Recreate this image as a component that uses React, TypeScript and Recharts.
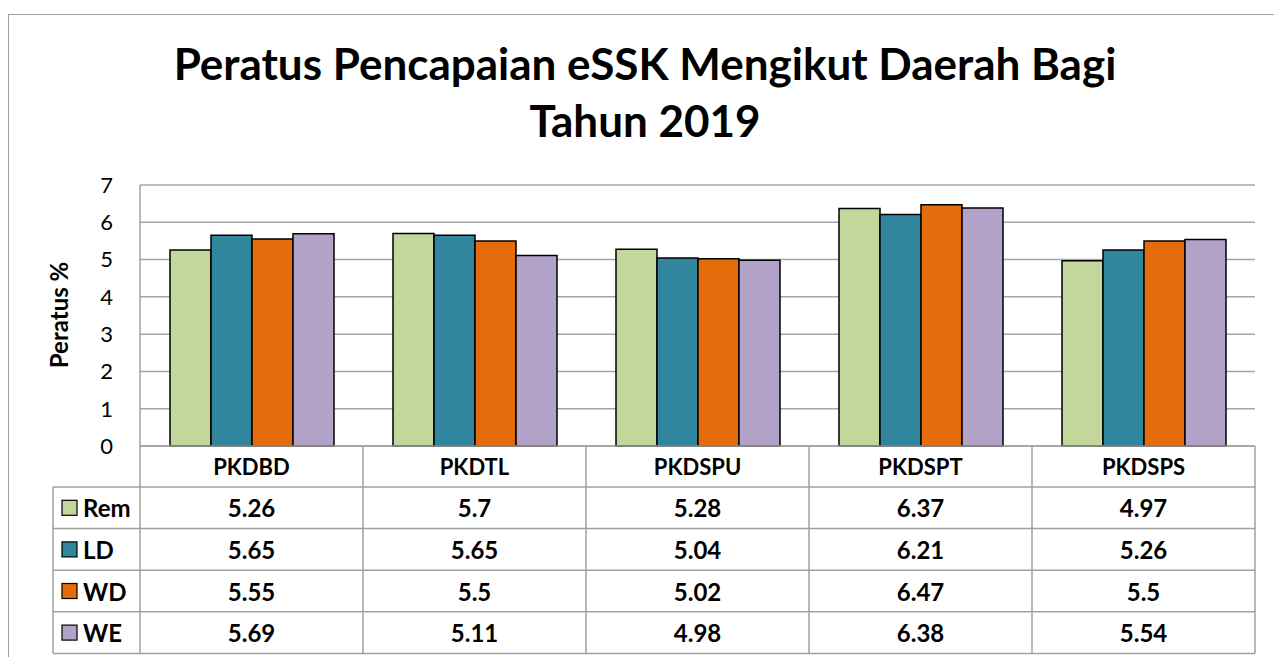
import React from 'react';
import { BarChart, Bar, XAxis, YAxis, CartesianGrid } from 'recharts';

const categories = ['PKDBD', 'PKDTL', 'PKDSPU', 'PKDSPT', 'PKDSPS'];
const remValues = [5.26, 5.7, 5.28, 6.37, 4.97];
const ldValues = [5.65, 5.65, 5.04, 6.21, 5.26];
const wdValues = [5.55, 5.5, 5.02, 6.47, 5.5];
const weValues = [5.69, 5.11, 4.98, 6.38, 5.54];
const yTicks = [0, 1, 2, 3, 4, 5, 6, 7];
const seriesNames = ['Rem', 'LD', 'WD', 'WE'];
const seriesKeys = ['rem', 'ld', 'wd', 'we'];
const seriesColors = ['#C3D69B', '#31859C', '#E46C0A', '#B3A2C7'];
const seriesValues = [remValues, ldValues, wdValues, weValues];
const titleLines = ['Peratus Pencapaian eSSK Mengikut Daerah Bagi', 'Tahun 2019'];
const yLabel = 'Peratus %';

const data = categories.map((c, i) => ({
  name: c,
  rem: remValues[i],
  ld: ldValues[i],
  wd: wdValues[i],
  we: weValues[i],
}));

const W = 1274;
const H = 657;
const PLOT_LEFT = 140;
const PLOT_RIGHT = 1255;
const PLOT_TOP = 185;
const PLOT_BOTTOM = 446;
const HEADER_BOTTOM = 487;
const ROW_H = 41.6;
const LEGEND_LEFT = 53;
const FONT = 'Lato, "Open Sans", sans-serif';
const LINE = '#a0a0a0';

const TableTick = (props: any) => {
  const { x, index, payload } = props;
  const colW = (PLOT_RIGHT - PLOT_LEFT) / categories.length;
  const left = x - colW / 2;
  const right = x + colW / 2;
  const n = seriesValues.length;
  const bottom = HEADER_BOTTOM + n * ROW_H;
  const textStyle: any = {
    fontFamily: FONT,
    fontWeight: 700,
    fontSize: 22,
    fill: '#000',
  };
  return (
    <g>
      <line x1={right} y1={PLOT_BOTTOM} x2={right} y2={bottom} stroke={LINE} strokeWidth={1.5} />
      {index === 0 && (
        <line x1={left} y1={PLOT_BOTTOM} x2={left} y2={bottom} stroke={LINE} strokeWidth={1.5} />
      )}
      {Array.from({ length: n + 1 }).map((_, r) => (
        <line
          key={'h' + r}
          x1={index === 0 ? LEGEND_LEFT : left}
          x2={right}
          y1={HEADER_BOTTOM + r * ROW_H}
          y2={HEADER_BOTTOM + r * ROW_H}
          stroke={LINE}
          strokeWidth={1.5}
        />
      ))}
      {index === 0 && (
        <line x1={LEGEND_LEFT} y1={HEADER_BOTTOM} x2={LEGEND_LEFT} y2={bottom} stroke={LINE} strokeWidth={1.5} />
      )}
      <text x={x} y={(PLOT_BOTTOM + HEADER_BOTTOM) / 2} textAnchor="middle" dominantBaseline="central" style={textStyle}>
        {payload.value}
      </text>
      {seriesValues.map((vals, r) => (
        <text
          key={'v' + r}
          x={x}
          y={HEADER_BOTTOM + r * ROW_H + ROW_H / 2}
          textAnchor="middle"
          dominantBaseline="central"
          style={{ ...textStyle, fontSize: 24 }}
        >
          {String(vals[index])}
        </text>
      ))}
      {index === 0 &&
        seriesNames.map((nm, r) => {
          const cy = HEADER_BOTTOM + r * ROW_H + ROW_H / 2;
          return (
            <g key={'l' + r}>
              <rect x={62} y={cy - 7.5} width={15} height={15} fill={seriesColors[r]} stroke="#000" strokeWidth={1.2} />
              <text x={83} y={cy} dominantBaseline="central" style={{ ...textStyle, fontSize: 24 }}>
                {nm}
              </text>
            </g>
          );
        })}
    </g>
  );
};

export default function App() {
  return (
    <div
      style={{
        position: 'fixed',
        left: 0,
        top: 0,
        width: W,
        height: H,
        overflow: 'hidden',
        background: '#fff',
      }}
    >
      <div
        style={{
          position: 'absolute',
          left: 8,
          top: 14,
          width: 1400,
          height: 800,
          border: '1.5px solid #a0a0a0',
        }}
      />
      <div style={{ position: 'absolute', left: 0, top: 0 }}>
        <BarChart
          width={W}
          height={H}
          data={data}
          margin={{ top: PLOT_TOP, right: W - PLOT_RIGHT, bottom: 0, left: 0 }}
          barCategoryGap={30}
          barGap={0}
        >
          <CartesianGrid vertical={false} stroke="#a6a6a6" strokeWidth={1.5} />
          <XAxis
            dataKey="name"
            height={H - PLOT_BOTTOM}
            interval={0}
            tickLine={false}
            axisLine={{ stroke: LINE, strokeWidth: 1.5 }}
            tick={<TableTick />}
          />
          <YAxis
            width={PLOT_LEFT}
            domain={[0, 7]}
            ticks={yTicks}
            tickLine={false}
            tickSize={6}
            tickMargin={21}
            axisLine={{ stroke: LINE, strokeWidth: 1.5 }}
            tick={{ fill: '#000', fontSize: 22, fontFamily: FONT }}
          />
          {seriesKeys.map((k, i) => (
            <Bar
              key={k}
              dataKey={k}
              name={seriesNames[i]}
              fill={seriesColors[i]}
              stroke="#000"
              strokeWidth={1.5}
              isAnimationActive={false}
            />
          ))}
        </BarChart>
      </div>
      <svg
        width={W}
        height={H}
        style={{ position: 'absolute', left: 0, top: 0, pointerEvents: 'none' }}
      >
        <text x={645} y={80} textAnchor="middle" style={{ fontFamily: FONT, fontWeight: 700, fontSize: 44, fill: '#000' }}>
          {titleLines[0]}
        </text>
        <text x={645} y={137} textAnchor="middle" style={{ fontFamily: FONT, fontWeight: 700, fontSize: 44, fill: '#000' }}>
          {titleLines[1]}
        </text>
        <text
          x={58}
          y={315}
          transform="rotate(-90 58 315)"
          textAnchor="middle"
          dominantBaseline="central"
          style={{ fontFamily: FONT, fontWeight: 700, fontSize: 24, fill: '#000' }}
        >
          {yLabel}
        </text>
      </svg>
    </div>
  );
}
